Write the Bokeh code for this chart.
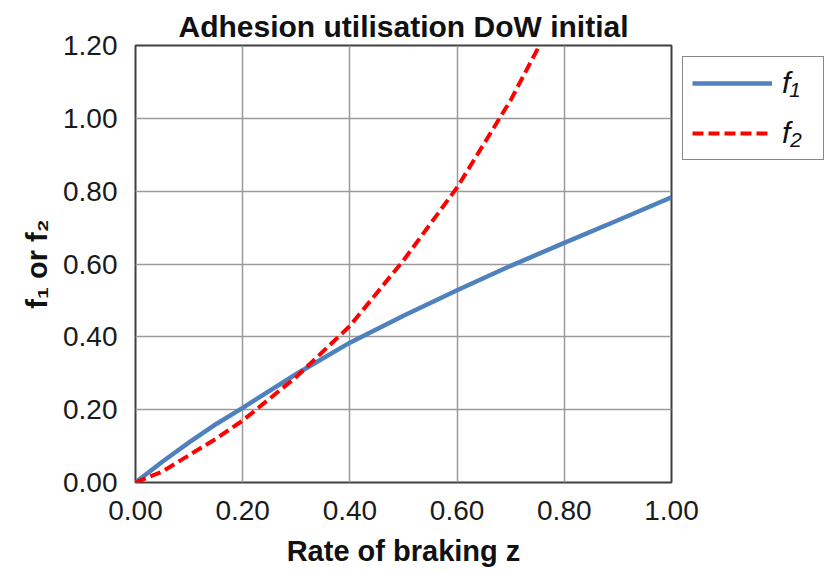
from bokeh.plotting import figure
from bokeh.models import Range1d, FixedTicker, NumeralTickFormatter, Legend, LegendItem
from bokeh.embed import file_html
from bokeh.resources import INLINE

# Data
z1 = [0.0, 0.05, 0.1, 0.15, 0.2, 0.3, 0.4, 0.5, 0.6, 0.7, 0.8, 0.9, 1.0]
f1 = [0.0, 0.057, 0.11, 0.16, 0.205, 0.298, 0.384, 0.458, 0.528, 0.595, 0.658, 0.72, 0.783]
z2 = [0.0, 0.05, 0.1, 0.15, 0.2, 0.3, 0.4, 0.5, 0.6, 0.7, 0.75, 0.8]
f2 = [0.0, 0.03, 0.075, 0.12, 0.17, 0.29, 0.43, 0.61, 0.81, 1.05, 1.19, 1.35]
x_ticks = [0.0, 0.2, 0.4, 0.6, 0.8, 1.0]
y_ticks = [0.0, 0.2, 0.4, 0.6, 0.8, 1.0, 1.2]

FONT = "Liberation Sans"

p = figure(frame_width=536, frame_height=437, output_backend="svg", toolbar_location=None,
           x_range=Range1d(0, 1), y_range=Range1d(0, 1.2),
           min_border_left=135, min_border_right=0, min_border_top=45, min_border_bottom=90,
           title="Adhesion utilisation DoW initial")

p.title.text_font = FONT
p.title.text_font_size = "30px"
p.title.text_font_style = "bold"
p.title.text_color = "#111111"
p.title.align = "center"
p.title.standoff = 6
p.title.offset = 0

p.outline_line_color = "#404040"
p.outline_line_width = 2
p.background_fill_color = "white"
p.border_fill_color = "white"

for ax in (p.xaxis[0], p.yaxis[0]):
    ax.axis_line_color = None
    ax.major_tick_line_color = None
    ax.minor_tick_line_color = None
    ax.major_label_text_font = FONT
    ax.major_label_text_font_size = "28px"
    ax.major_label_text_color = "#1a1a1a"
    ax.major_label_standoff = 12
    ax.axis_label_text_font = FONT
    ax.axis_label_text_font_size = "29px"
    ax.axis_label_text_font_style = "bold"
    ax.axis_label_text_color = "#111111"
    ax.formatter = NumeralTickFormatter(format="0.00")

p.xaxis[0].ticker = FixedTicker(ticks=x_ticks)
p.yaxis[0].ticker = FixedTicker(ticks=y_ticks)
p.xaxis[0].axis_label = "Rate of braking z"
p.yaxis[0].axis_label = "f\u2081 or f\u2082"
p.xaxis[0].axis_label_standoff = 12
p.yaxis[0].axis_label_standoff = 7

p.xgrid.ticker = FixedTicker(ticks=x_ticks)
p.ygrid.ticker = FixedTicker(ticks=y_ticks)
p.grid.grid_line_color = "#9a9a9a"
p.grid.grid_line_width = 1.5

r1 = p.line(z1, f1, line_color="#4f81bd", line_width=4.5)
r2 = p.line(z2, f2, line_color="#ff0000", line_width=4, line_dash="11 5")

legend = Legend(items=[LegendItem(label="f\u2081", renderers=[r1]),
                       LegendItem(label="f\u2082", renderers=[r2])],
                location="top_left", orientation="vertical")
legend.border_line_color = "#111111"
legend.border_line_width = 1.5
legend.background_fill_alpha = 1
legend.label_text_font = FONT
legend.label_text_font_size = "30px"
legend.label_text_font_style = "italic"
legend.label_text_color = "#111111"
legend.glyph_width = 80
legend.glyph_height = 28
legend.label_height = 28
legend.label_width = 32
legend.label_standoff = 10
legend.spacing = 16
legend.padding = 9
legend.margin = 11
p.add_layout(legend, "right")

open("out.html", "w").write(file_html(p, INLINE))
